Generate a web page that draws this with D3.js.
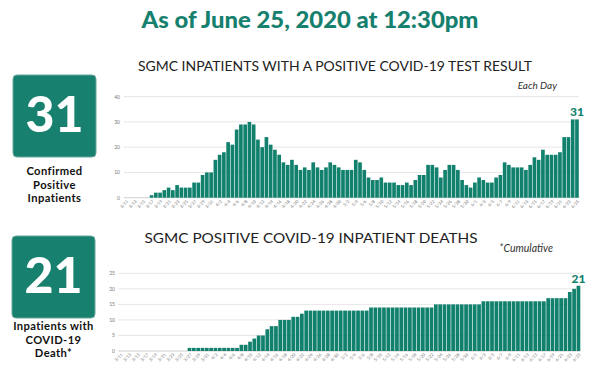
<!DOCTYPE html>
<html>
<head>
<meta charset="utf-8">
<script src="https://cdn.jsdelivr.net/npm/d3@7"></script>
<style>
  body { margin: 0; background: #fff; }
  svg { display: block; }
</style>
</head>
<body>
<div id="chart"></div>
<script>
// ---- data ----
const startDay = new Date(2020, 2, 11);   // 3/11
const endDay = new Date(2020, 5, 26);     // up to and incl. 6/25
const days = d3.timeDay.range(startDay, endDay);
const dayLabels = days.map(d => `${d.getMonth() + 1}/${d.getDate()}`);

// positive inpatients each day
const inpatients = [
  0, 0, 0, 0, 0, 0, 1, 2, 2, 3, 4, 3, 5, 4, 4, 4,
  6, 6, 9, 10, 10, 15, 17, 18, 22, 21,
  27, 29, 29, 30, 29, 23, 20, 24, 21, 19,
  17, 14, 13, 15, 13, 11, 12, 11, 14, 12,
  11, 12, 14, 13, 12, 11, 11, 11,
  15, 14, 11, 8, 7, 7, 8, 6, 6, 6,
  5, 5, 6, 5, 7, 9, 9, 13, 13, 12,
  8, 11, 13, 13, 11, 7, 5, 4, 6, 8,
  7, 6, 6, 8, 9, 14, 13, 12, 12, 12,
  11, 13, 16, 15, 19, 17, 17, 17, 18, 24,
  24, 31, 31
];

// cumulative deaths
const deaths = [
  0, 0, 0, 0, 0, 0, 0, 0, 0, 0, 0, 0, 0, 0, 0, 0,
  1, 1, 1, 1, 1, 1, 1, 1, 1, 1, 1, 1,
  2, 2, 3, 4, 5, 5, 7, 8, 8, 10, 10, 10, 11, 11, 12,
  13, 13, 13, 13, 13, 13, 13, 13, 13, 13, 13, 13, 13, 13, 13,
  14, 14, 14, 14, 14, 14, 14, 14, 14, 14, 14, 14, 14, 14, 14,
  15, 15, 15, 15, 15, 15, 15, 15, 15, 15, 15,
  16, 16, 16, 16, 16, 16, 16, 16, 16, 16, 16, 16, 16, 16, 16,
  17, 17, 17, 17, 17,
  19, 20, 21
];

const topTicks = [0, 10, 20, 30, 40];
const bottomTicks = [0, 5, 10, 15, 20, 25];

const width = 593, height = 375;
const teal = "#11816d";
const boxTeal = "#17806e";

const svg = d3.select("#chart").append("svg")
  .attr("width", width)
  .attr("height", height)
  .style("font-family", "Lato, sans-serif");

// ---- headings ----
svg.append("text")
  .attr("x", 310).attr("y", 28)
  .attr("text-anchor", "middle")
  .attr("fill", "#16806e")
  .attr("font-size", 22)
  .attr("font-weight", 900)
  .attr("textLength", 337)
  .attr("lengthAdjust", "spacingAndGlyphs")
  .text("As of June 25, 2020 at 12:30pm");

svg.append("text")
  .attr("x", 335).attr("y", 70.5)
  .attr("text-anchor", "middle")
  .attr("fill", "#222")
  .attr("font-size", 12.5)
  .attr("textLength", 394)
  .attr("lengthAdjust", "spacingAndGlyphs")
  .text("SGMC INPATIENTS WITH A POSITIVE COVID-19 TEST RESULT");

svg.append("text")
  .attr("x", 557).attr("y", 88.5)
  .attr("text-anchor", "end")
  .attr("fill", "#333")
  .attr("font-size", 10)
  .attr("font-style", "italic")
  .text("Each Day");

svg.append("text")
  .attr("x", 311).attr("y", 242.5)
  .attr("text-anchor", "middle")
  .attr("fill", "#222")
  .attr("font-size", 12.5)
  .attr("textLength", 333)
  .attr("lengthAdjust", "spacingAndGlyphs")
  .text("SGMC POSITIVE COVID-19 INPATIENT DEATHS");

svg.append("text")
  .attr("x", 553).attr("y", 252)
  .attr("text-anchor", "end")
  .attr("fill", "#333")
  .attr("font-size", 10.5)
  .attr("font-style", "italic")
  .text("*Cumulative");

// ---- left number boxes ----
function numberBox(x, y, value, lines, lineY) {
  svg.append("rect")
    .attr("x", x).attr("y", y)
    .attr("width", 83).attr("height", 82)
    .attr("rx", 4)
    .attr("fill", boxTeal)
    .attr("stroke", "#6aa79c")
    .attr("stroke-width", 1);
  svg.append("text")
    .attr("x", x + 41.5).attr("y", y + 57)
    .attr("text-anchor", "middle")
    .attr("fill", "white")
    .attr("font-size", 50)
    .attr("font-weight", 900)
    .text(value);
  svg.selectAll(null)
    .data(lines)
    .enter()
    .append("text")
    .attr("x", x + 41.5)
    .attr("y", (d, i) => lineY + i * 13.6)
    .attr("text-anchor", "middle")
    .attr("fill", "#111")
    .attr("font-size", 11.2)
    .attr("font-weight", 700)
    .attr("letter-spacing", 0.4)
    .text(d => d);
}

numberBox(13, 75, "31", ["Confirmed", "Positive", "Inpatients"], 175);
numberBox(12, 236, "21", ["Inpatients with", "COVID-19", "Death*"], 330);

// ---- bar chart ----
function barChart(values, ticks, xRange, yRange, tickX, labelTop) {
  const x = d3.scaleBand()
    .domain(dayLabels)
    .range(xRange)
    .paddingInner(0.14)
    .paddingOuter(0.05);

  const y = d3.scaleLinear()
    .domain([ticks[0], ticks[ticks.length - 1]])
    .range(yRange);

  const g = svg.append("g");

  // grid
  g.selectAll("line.grid")
    .data(ticks)
    .enter()
    .append("line")
    .attr("class", "grid")
    .attr("x1", xRange[0]).attr("x2", xRange[1])
    .attr("y1", d => y(d)).attr("y2", d => y(d))
    .attr("stroke", d => d === 0 ? "#cfcfcf" : "#e6e6e6")
    .attr("stroke-width", 1);

  // y tick labels
  g.selectAll("text.ytick")
    .data(ticks)
    .enter()
    .append("text")
    .attr("class", "ytick")
    .attr("x", tickX)
    .attr("y", d => y(d) + 1.8)
    .attr("text-anchor", "end")
    .attr("fill", "#777")
    .attr("font-size", 5)
    .text(d => d);

  // bars
  g.selectAll("rect")
    .data(values)
    .enter()
    .append("rect")
    .attr("x", (d, i) => x(dayLabels[i]))
    .attr("y", d => y(d))
    .attr("width", x.bandwidth())
    .attr("height", d => y(0) - y(d))
    .attr("fill", teal);

  // x tick labels every other day
  g.selectAll("text.xtick")
    .data(dayLabels.filter((d, i) => i % 2 === 0))
    .enter()
    .append("text")
    .attr("class", "xtick")
    .attr("transform", d => `translate(${x(d) + x.bandwidth() / 2 + 1.5},${y(0) + 3}) rotate(-45)`)
    .attr("text-anchor", "end")
    .attr("dy", "0.35em")
    .attr("fill", "#777")
    .attr("font-size", 4.3)
    .text(d => d);

  // last value label
  const last = values.length - 1;
  g.append("text")
    .attr("x", x(dayLabels[last]) + x.bandwidth() / 2)
    .attr("y", y(values[last]) - 3)
    .attr("text-anchor", "middle")
    .attr("fill", teal)
    .attr("font-size", labelTop)
    .attr("font-weight", 900)
    .text(values[last]);
}

barChart(inpatients, topTicks, [124, 579], [197.7, 96.7], 120, 12);
barChart(deaths, bottomTicks, [118.3, 580.5], [351, 273.3], 115, 12);
</script>
</body>
</html>
